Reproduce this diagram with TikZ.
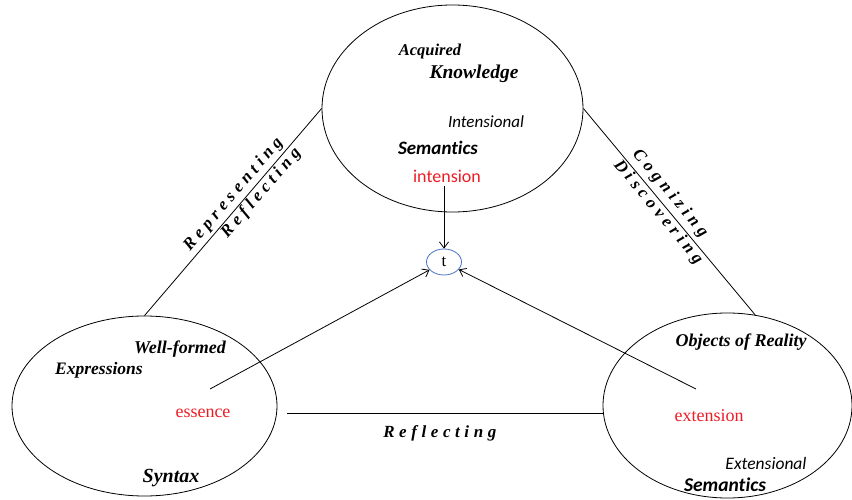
\documentclass[tikz,border=0pt]{standalone}
\usepackage{fontspec}
\setmainfont{Liberation Serif}
\newfontfamily\calfont[Ligatures=NoCommon]{Carlito}
\usetikzlibrary{shapes.geometric,arrows.meta}
\definecolor{tblue}{RGB}{68,114,196}
\definecolor{lred}{RGB}{237,28,36}

\tikzset{
  bubble/.style={draw, ellipse, inner sep=0pt, line width=0.8pt},
  tim/.style={font=\fontsize{#1}{#1}\selectfont\bfseries\itshape},
  calit/.style={font=\calfont\fontsize{#1}{#1}\selectfont\itshape},
  calbi/.style={font=\calfont\fontsize{#1}{#1}\selectfont\bfseries\itshape},
  redcal/.style={text=lred, font=\calfont\fontsize{#1}{#1}\selectfont},
  redtim/.style={text=lred, font=\fontsize{#1}{#1}\selectfont},
  spaced/.style={inner sep=1pt, font=\fontsize{17}{17}\selectfont\bfseries\itshape\addfontfeature{LetterSpace=27}},
  arr/.style={-{Straight Barb[length=6pt,width=9pt]}, line width=0.8pt}
}

\begin{document}
\begin{tikzpicture}[x=1pt, y=1pt, line width=0.8pt]
\useasboundingbox (0,0) rectangle (852,499);
%%Ellipses
\node (know) [bubble, minimum width=261, minimum height=207] at (452.5,390.5) {};
\node (syn) [bubble, minimum width=265, minimum height=180] at (144.5,93) {};
\node (obj) [bubble, minimum width=249, minimum height=185] at (727.5,93.5) {};
\node (t) [draw=tblue, ellipse, inner sep=0pt, minimum width=35, minimum height=26] at (444,237) {\fontsize{17}{17}\selectfont t};

%%Texts
\draw (430,447) node (acq) [tim=16.5] {Acquired};
\draw (474,425) node (kn) [tim=19.5] {Knowledge};
\draw (486,377) node (intl) [calit=17] {Intensional};
\draw (438,351) node (sem) [calbi=19] {Semantics};
\draw (447,323) node (intension) [redcal=18] {intension};

\draw (180,150) node (wf) [tim=18] {Well-formed};
\draw (99,129) node (expr) [tim=17.5] {Expressions};
\draw (203,86) node (essence) [redtim=18] {essence};
\draw (171,21) node (syntax) [tim=20] {Syntax};

\draw (741,157) node (objr) [tim=18] {Objects of Reality};
\draw (709,83) node (extension) [redtim=18] {extension};
\draw (766,36) node (extl) [calit=17.5] {Extensional};
\draw (725,14) node (sem2) [calbi=19.5] {Semantics};

%%Connections
\draw (know.west) -- (syn.north)
  node [pos=0.45, sloped, above=2pt, spaced] (rep) {Representing}
  node [pos=0.38, sloped, below=0pt, spaced] (refl1) {Reflecting};
\draw (know.east) -- (obj.73)
  node [pos=0.45, sloped, above=3pt, spaced] (cog) {Cognizing}
  node [pos=0.475, sloped, below=0pt, spaced] (disc) {Discovering};
\draw[shorten <=10pt] (syn.-3) -- (syn.-3 -| obj.west)
  node [midway, below=11pt, spaced] (refl2) {Reflecting};

%%Arrows to t
\coordinate (essTail) at (210,110);
\coordinate (extTail) at (696,110);
\draw[arr] (t.north |- intension.south) -- (t.north);
\draw[arr] (essTail) -- (t);
\draw[arr] (extTail) -- (t);

\end{tikzpicture}
\end{document}
